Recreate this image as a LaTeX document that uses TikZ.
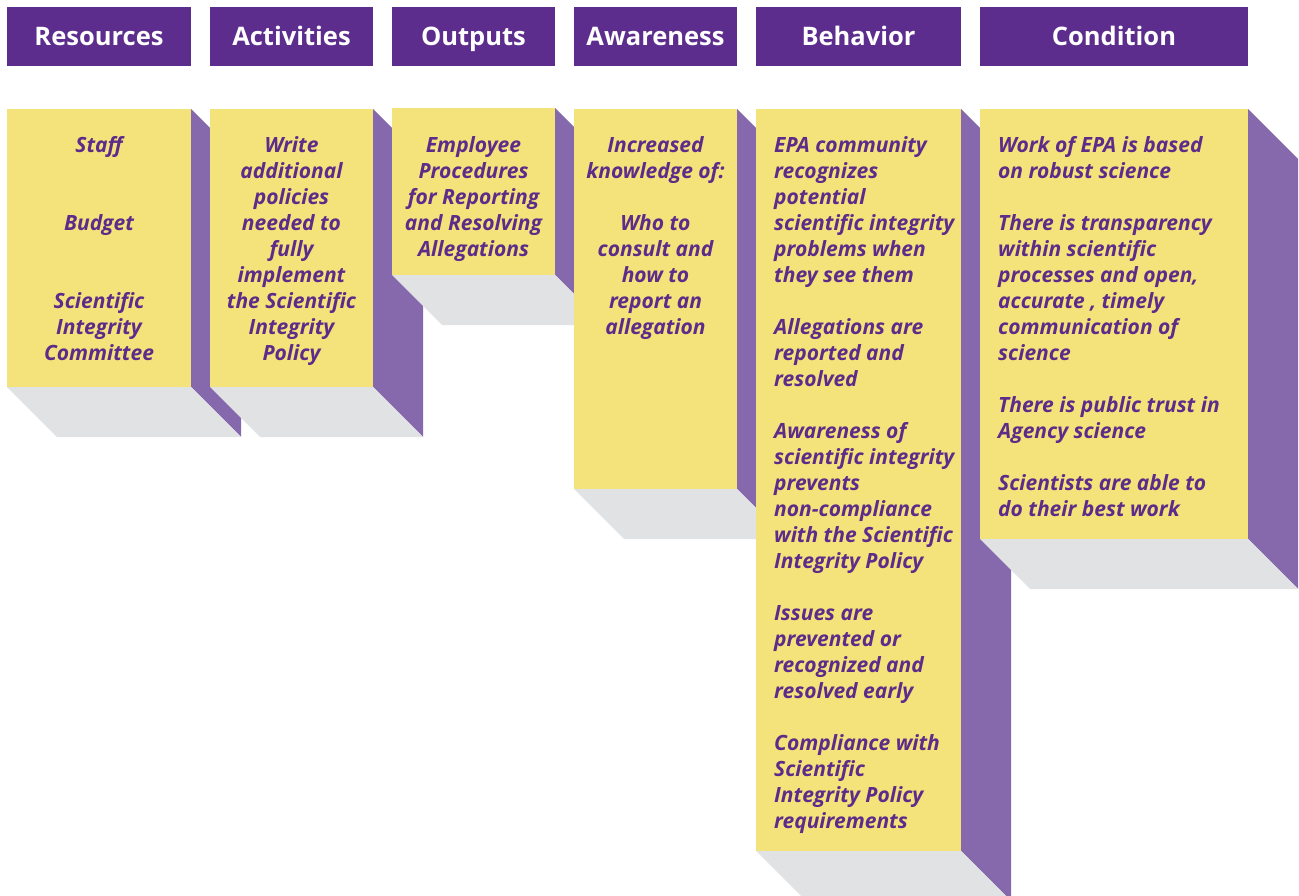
\documentclass[tikz,border=0pt]{standalone}
\usepackage{fontspec}
\setmainfont{Open Sans}
\definecolor{hdrpurple}{RGB}{93,45,142}
\definecolor{sidepurple}{RGB}{134,105,172}
\definecolor{yellowbox}{RGB}{243,227,122}
\definecolor{shadowgray}{RGB}{225,226,228}
\definecolor{txtpurple}{RGB}{91,44,138}
\tikzset{
  hdr/.style={fill=hdrpurple, text=white, font=\fontsize{25.5}{28}\selectfont\bfseries, inner sep=0pt, minimum height=59pt, text height=22pt, text depth=3pt},
  body/.style={text=txtpurple, font=\fontsize{21}{26}\selectfont\bfseries\itshape, inner sep=0pt, align=center, anchor=north},
  bodyl/.style={body, align=left, anchor=north west},
}
\newcommand\pillar[4]{%
  \fill[sidepurple] (#2,#3) -- (#2+50,#3+50) -- (#2+50,#4+50) -- (#2,#4) -- cycle;
  \fill[shadowgray] (#1,#4) -- (#2,#4) -- (#2+50,#4+50) -- (#1+50,#4+50) -- cycle;
  \fill[yellowbox] (#1,#3) rectangle (#2,#4);
}
\begin{document}
\begin{tikzpicture}[x=1pt,y=-1pt]
\useasboundingbox (0,0) rectangle (1299,896);
\begin{scope}
\clip (0,0) rectangle (1299,896);
% headers
\node[hdr, minimum width=184pt] (h1) at (99,36.5) {Resources};
\node[hdr, minimum width=163pt] (h2) at (291.5,36.5) {Activities};
\node[hdr, minimum width=163pt] (h3) at (473.5,36.5) {Outputs};
\node[hdr, minimum width=163pt] (h4) at (655.5,36.5) {Awareness};
\node[hdr, minimum width=205pt] (h5) at (858.5,36.5) {Behavior};
\node[hdr, minimum width=268pt] (h6) at (1114,36.5) {Condition};
% pillars
\pillar{7}{191}{109}{387}
\pillar{210}{373}{109}{387}
\pillar{392}{555}{108}{275}
\pillar{574}{737}{109}{489}
\pillar{756}{961}{109}{851}
\pillar{980}{1248}{109}{539}
\end{scope}
% texts
\node[body] (t1) at (99,133.8) {\strut Staff\\[52pt] Budget\\[52pt] Scientific\\ Integrity\\ Committee};
\node[body] (t2) at (291.5,133.8) {\strut Write\\ additional\\ policies\\ needed to\\ fully\\ implement\\ the Scientific\\ Integrity\\ Policy};
\node[body] (t3) at (473.5,133.8) {\strut Employee\\ Procedures\\ for Reporting\\ and Resolving\\ Allegations};
\node[body] (t4) at (655.5,133.8) {\strut Increased\\ knowledge of:\\[26pt] Who to\\ consult and\\ how to\\ report an\\ allegation};
\node[bodyl] (t5) at (774,133.8) {\strut EPA community\\ recognizes\\ potential\\ scientific integrity\\ problems when\\ they see them\\[26pt] Allegations are\\ reported and\\ resolved\\[26pt] Awareness of\\ scientific integrity\\ prevents\\ non-compliance\\ with the Scientific\\ Integrity Policy\\[26pt] Issues are\\ prevented or\\ recognized and\\ resolved early\\[26pt] Compliance with\\ Scientific\\ Integrity Policy\\ requirements};
\node[bodyl] (t6) at (998,133.8) {\strut Work of EPA is based\\ on robust science\\[26pt] There is transparency\\ within scientific\\ processes and open,\\ accurate , timely\\ communication of\\ science\\[26pt] There is public trust in\\ Agency science\\[26pt] Scientists are able to\\ do their best work};
\end{tikzpicture}
\end{document}
